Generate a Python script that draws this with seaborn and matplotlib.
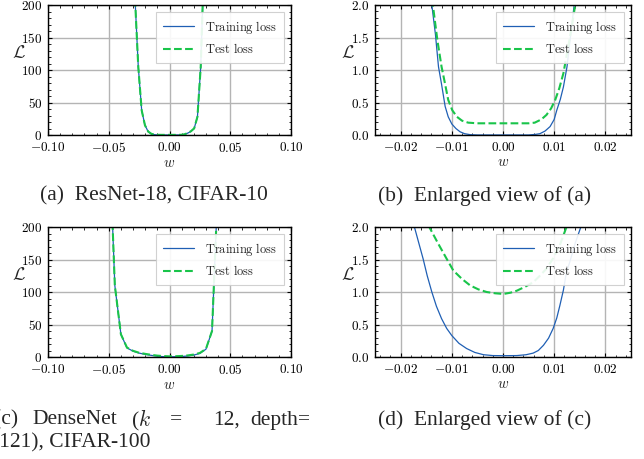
import numpy as np
import matplotlib
matplotlib.use("Agg")
import matplotlib.pyplot as plt
import seaborn as sns
from matplotlib.ticker import AutoMinorLocator, FuncFormatter, MultipleLocator

# ---- (a) ResNet-18, CIFAR-10 (coarse sweep) ----
w_a = [-0.0311, -0.0284, -0.0257, -0.0229, -0.0202, -0.0175, -0.0148, -0.0122,
       -0.0095, -0.0068, -0.0041, -0.0014, 0.0014, 0.0041, 0.0068, 0.0095,
       0.0122, 0.0149, 0.0176, 0.0203, 0.0230, 0.0257, 0.0284]
train_a = [420, 210, 105, 38, 15, 5, 1.5, 0.4, 0.1, 0, 0, 0, 0, 0, 0, 0.1,
           0.8, 2.8, 5.5, 10, 28, 105, 265]
test_a = [420, 210, 105, 38, 15, 5.2, 1.7, 0.6, 0.3, 0.2, 0.2, 0.2, 0.2, 0.2,
          0.2, 0.3, 1.0, 3.0, 5.7, 10.2, 28, 105, 265]

# ---- (b) enlarged view of (a) ----
w_b_train = [-0.0145, -0.0139, -0.0132, -0.0126, -0.0120, -0.0113, -0.0107,
             -0.0100, -0.0092, -0.0084, -0.0075, -0.0064, -0.0050, 0.0, 0.0050,
             0.0064, 0.0072, 0.0082, 0.0092, 0.0100, 0.0105, 0.0112, 0.0118,
             0.0125, 0.0131, 0.0139, 0.0145]
train_b = [2.6, 2.0, 1.55, 1.05, 0.78, 0.44, 0.28, 0.17, 0.10, 0.05, 0.02,
           0.005, 0.0, 0.0, 0.0, 0.01, 0.02, 0.06, 0.13, 0.24, 0.38, 0.55, 0.74,
           1.05, 1.46, 2.0, 2.5]
w_b_test = [-0.0143, -0.0137, -0.0128, -0.0120, -0.0113, -0.0107, -0.0099,
            -0.0090, -0.0080, -0.0068, -0.0050, 0.0, 0.0050, 0.0062, 0.0075,
            0.0085, 0.0094, 0.0102, 0.0110, 0.0118, 0.0126, 0.0134, 0.0141,
            0.0147]
test_b = [2.5, 2.0, 1.45, 1.05, 0.78, 0.54, 0.38, 0.28, 0.22, 0.19, 0.18,
          0.18, 0.18, 0.19, 0.24, 0.31, 0.41, 0.54, 0.72, 0.95, 1.30, 1.65,
          2.0, 2.4]

# ---- (c) DenseNet (k=12, depth=121), CIFAR-100 (coarse sweep) ----
w_c = [-0.050, -0.045, -0.040, -0.035, -0.030, -0.025, -0.020, -0.015, -0.010,
       -0.005, 0.0, 0.005, 0.010, 0.015, 0.020, 0.025, 0.030, 0.035, 0.040]
train_c = [360, 110, 35, 14, 9, 6, 4, 2.5, 1.2, 0.5, 0.3, 0.4, 0.8, 1.6, 3,
           5.5, 12, 40, 270]
test_c = [360, 110, 35, 14.5, 9.5, 6.5, 4.8, 3.3, 2.1, 1.4, 1.0, 1.2, 1.6, 2.4,
          3.8, 6.2, 12.5, 40, 270]

# ---- (d) enlarged view of (c) ----
w_d_train = [-0.0180, -0.0173, -0.0164, -0.0156, -0.0148, -0.0139, -0.0130,
             -0.0120, -0.0110, -0.0100, -0.0086, -0.0071, -0.0055, -0.0038,
             -0.0020, 0.0, 0.0027, 0.0045, 0.0059, 0.0069, 0.0079, 0.0089,
             0.0098, 0.0105, 0.0111, 0.0118, 0.0124, 0.0130, 0.0141, 0.0152,
             0.0158]
train_d = [2.3, 2.0, 1.74, 1.51, 1.25, 1.0, 0.78, 0.59, 0.44, 0.33, 0.21, 0.13,
           0.07, 0.035, 0.022, 0.02, 0.022, 0.035, 0.06, 0.10, 0.18, 0.29, 0.44,
           0.60, 0.79, 1.03, 1.31, 1.45, 1.75, 2.0, 2.2]
w_d_test = [-0.0150, -0.0144, -0.0127, -0.0110, -0.0097, -0.0080, -0.0064,
            -0.0048, -0.0032, -0.0015, 0.0001, 0.0015, 0.0027, 0.0043, 0.0059,
            0.0072, 0.0085, 0.0098, 0.0111, 0.0124, 0.0130]
test_d = [2.2, 2.0, 1.75, 1.51, 1.33, 1.20, 1.10, 1.04, 1.00, 0.98, 0.97, 0.99,
          1.02, 1.08, 1.15, 1.25, 1.36, 1.52, 1.72, 2.0, 2.15]

TRAIN_COLOR = "#1f5fb4"
TEST_COLOR = "#19c44a"

sns.set_style("ticks")
plt.rcParams["mathtext.fontset"] = "cm"
plt.rcParams["font.family"] = ["DejaVu Serif"]


def draw_panel(ax, w_tr, l_tr, w_te, l_te, xlim, xstep, ylim, ystep, xfmt, yfmt,
               lab_x):
    sns.lineplot(x=w_tr, y=l_tr, ax=ax, color=TRAIN_COLOR, linewidth=0.9,
                 label="Training loss", sort=False, estimator=None)
    sns.lineplot(x=w_te, y=l_te, ax=ax, color=TEST_COLOR, linewidth=1.5,
                 linestyle="--", label="Test loss", sort=False, estimator=None)
    ax.set_xlim(*xlim)
    ax.set_ylim(*ylim)
    ax.xaxis.set_major_locator(MultipleLocator(xstep))
    ax.yaxis.set_major_locator(MultipleLocator(ystep))
    ax.xaxis.set_minor_locator(AutoMinorLocator())
    ax.yaxis.set_minor_locator(AutoMinorLocator())
    ax.xaxis.set_major_formatter(FuncFormatter(lambda v, _: "$" + xfmt.format(v) + "$"))
    ax.yaxis.set_major_formatter(FuncFormatter(lambda v, _: "$" + yfmt.format(v) + "$"))
    ax.tick_params(which="both", direction="in", top=True, right=True,
                   labelsize=9.5, colors="black", pad=4)
    ax.tick_params(which="major", length=3, width=0.8)
    ax.tick_params(which="minor", length=1.8, width=0.6)
    ax.grid(True, which="major", color="#b4b4b4", linewidth=1.0)
    ax.set_axisbelow(True)
    for sp in ax.spines.values():
        sp.set_color("black")
        sp.set_linewidth(1.0)
    ax.set_xlabel("$w$", fontsize=10.5, labelpad=1)
    ax.set_ylabel(r"$\mathcal{L}$", fontsize=13, rotation=0)
    ax.yaxis.set_label_coords(lab_x, 0.56)
    leg = ax.legend(loc="upper right", handlelength=2.5, handletextpad=0.9,
                    frameon=True, fancybox=False, framealpha=0.9,
                    borderaxespad=0.55, borderpad=0.55, labelspacing=0.5,
                    prop={"family": "serif", "size": 9})
    leg.get_frame().set_edgecolor("#cccccc")
    leg.get_frame().set_linewidth(0.8)
    for t in leg.get_texts():
        t.set_text(r"$\mathrm{" + t.get_text().replace(" ", r"\ ") + "}$")


fig = plt.figure(figsize=(6.44, 4.59), dpi=100)
W, H = 644.0, 459.0


def add_ax(left, top, right, bottom):
    return fig.add_axes([left / W, 1 - bottom / H, (right - left) / W, (bottom - top) / H])


ax_a = add_ax(48, 5, 291, 135)
ax_b = add_ax(375, 5, 631, 135)
ax_c = add_ax(48, 227, 291, 357)
ax_d = add_ax(375, 227, 631, 357)

draw_panel(ax_a, w_a, train_a, w_a, test_a, (-0.1, 0.1), 0.05, (0, 200), 50,
           "{:.2f}", "{:.0f}", -0.12)
draw_panel(ax_b, w_b_train, train_b, w_b_test, test_b, (-0.025, 0.025), 0.01,
           (0, 2.0), 0.5, "{:.2f}", "{:.1f}", -0.105)
draw_panel(ax_c, w_c, train_c, w_c, test_c, (-0.1, 0.1), 0.05, (0, 200), 50,
           "{:.2f}", "{:.0f}", -0.12)
draw_panel(ax_d, w_d_train, train_d, w_d_test, test_d, (-0.025, 0.025), 0.01,
           (0, 2.0), 0.5, "{:.2f}", "{:.1f}", -0.105)

cap = dict(fontsize=15.5, family="Liberation Serif", va="center", ha="left")
fig.text(40 / W, 1 - 196 / H, "(a)  ResNet-18, CIFAR-10", **cap)
fig.text(378 / W, 1 - 196 / H, "(b)  Enlarged view of (a)", **cap)
fig.text(378 / W, 1 - 420 / H, "(d)  Enlarged view of (c)", **cap)
# justified two-line caption, cut at the left edge like the source
line1 = [(-6, "(c)"), (32, "DenseNet"), (131, "($k$"), (170, "="), (213, "12,"),
         (250, "depth=")]
for x, s in line1:
    fig.text(x / W, 1 - 420 / H, s, **cap)
fig.text(-8 / W, 1 - 443 / H, "(121), CIFAR-100", **cap)

fig.savefig("out.png", dpi=100)
